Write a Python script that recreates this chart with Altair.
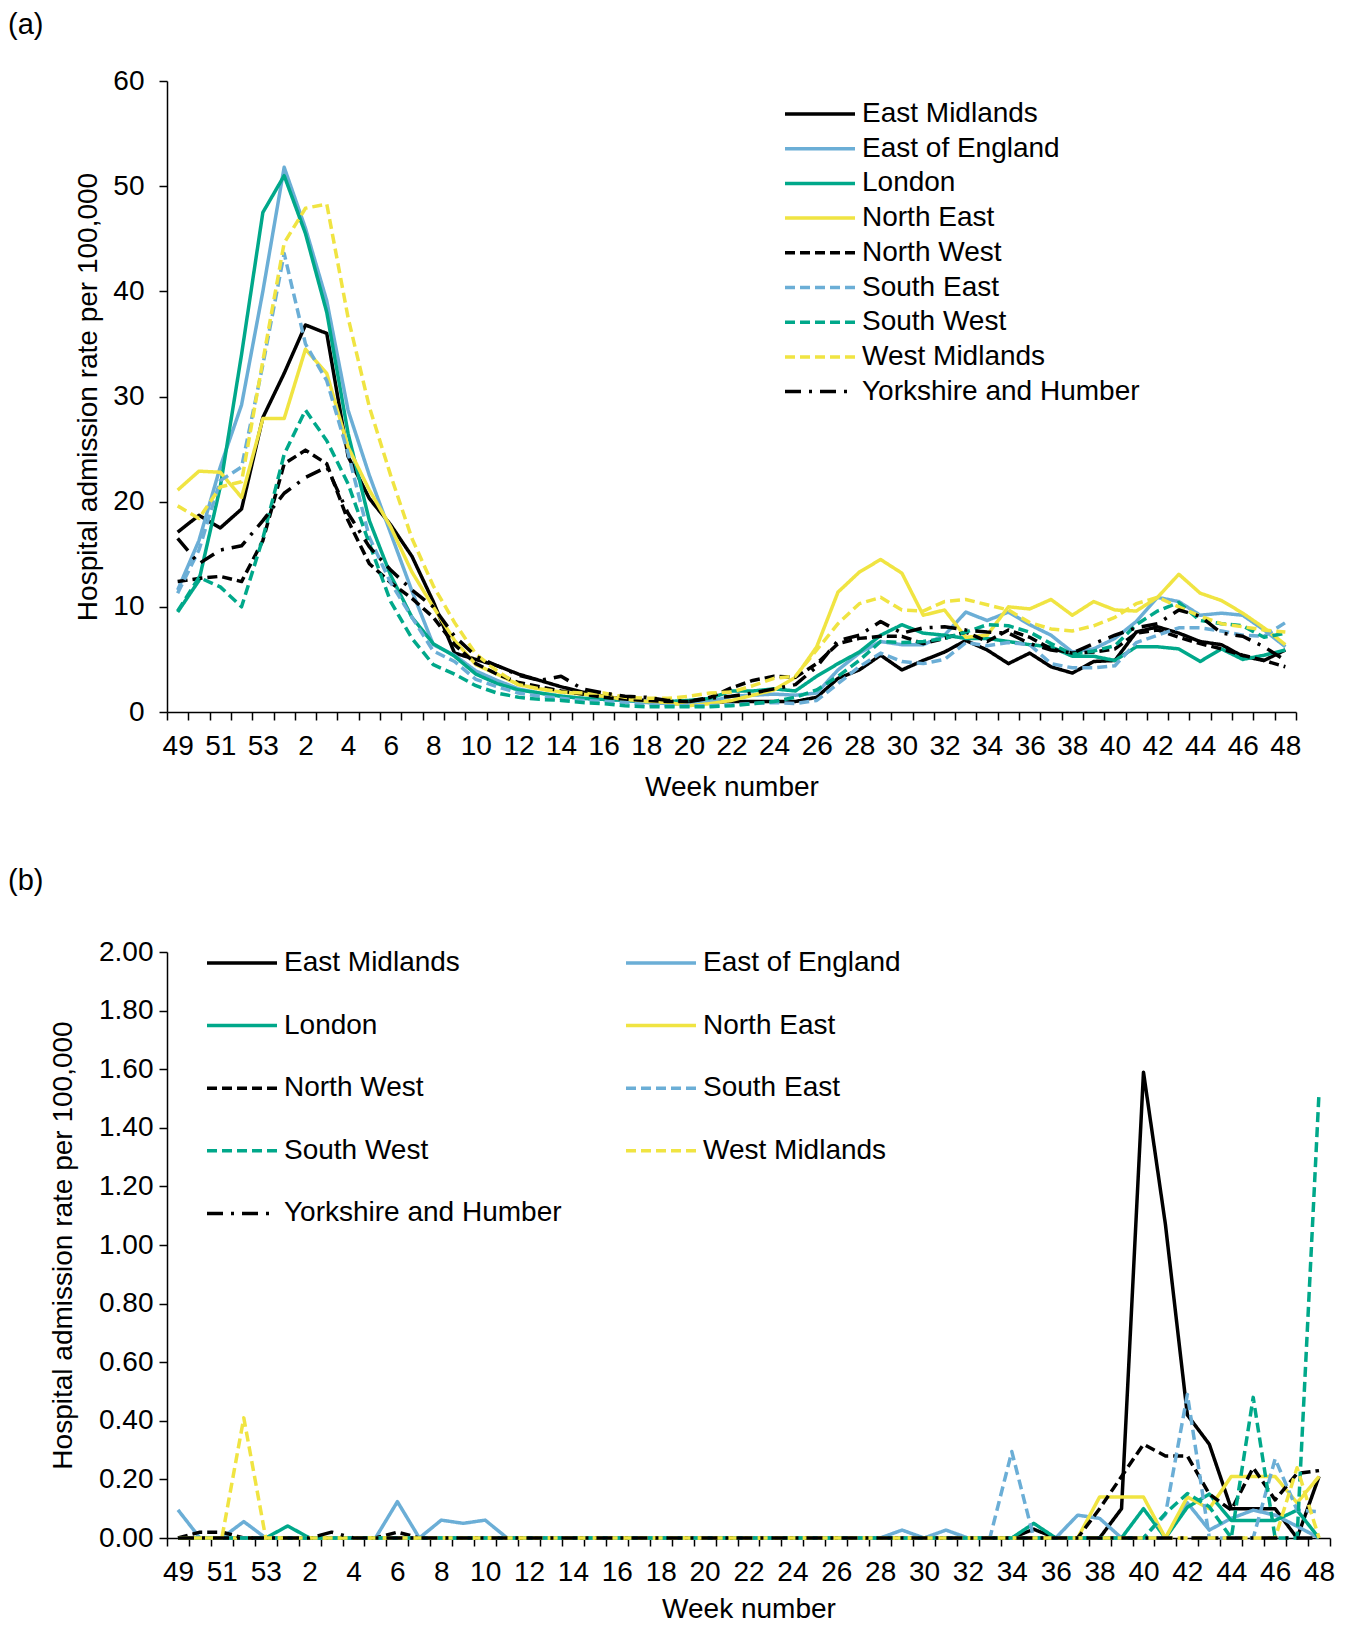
import altair as alt
import pandas as pd

weeks = [49, 50, 51, 52, 53] + list(range(1, 49))
regions = ["East Midlands", "East of England", "London", "North East", "North West",
           "South East", "South West", "West Midlands", "Yorkshire and Humber"]
colors = ["#000000", "#6BAED6", "#00A88A", "#F0E442",
          "#000000", "#6BAED6", "#00A88A", "#F0E442", "#000000"]
dashes = [[1, 0], [1, 0], [1, 0], [1, 0], [10, 5], [10, 5], [10, 5], [10, 5], [16, 8, 3, 8]]

# ---- panel (a): hospital admission rate per 100,000 ----
a_em = [17.1, 18.7, 17.5, 19.3, 28.0, 32.2, 36.8, 36.0, 24.3, 20.3, 17.8, 14.8,
        10.5, 5.6, 5.0, 4.4, 3.6, 3.0, 2.4, 1.9, 1.5, 1.2, 1.0, 0.9, 0.8, 0.9, 1.0, 1.0, 1.0, 1.0, 1.4,
        3.2, 4.0, 5.4, 4.0, 4.9, 5.7, 6.8, 5.9, 4.6, 5.6, 4.3, 3.7, 4.8, 4.9, 7.6, 8.1, 7.5, 6.7, 6.4, 5.3, 4.9, 5.9]
a_eoe = [11.6, 16.3, 23.3, 29.2, 40.0, 51.8, 46.0, 39.1, 28.7, 22.5, 17.0, 11.5,
         6.4, 5.4, 3.9, 3.0, 2.2, 1.8, 1.5, 1.3, 1.2, 1.1, 0.9, 0.8, 0.7, 1.0, 1.5, 1.6, 1.7, 1.6, 1.8,
         4.0, 5.6, 6.7, 6.4, 6.4, 7.3, 9.5, 8.7, 9.5, 8.3, 7.3, 5.7, 6.0, 7.0, 8.6, 10.9, 10.5, 9.2, 9.4, 9.2, 7.8, 6.2]
a_lon = [9.5, 12.5, 21.4, 34.0, 47.5, 51.0, 45.5, 38.0, 26.5, 18.2, 13.0, 9.0,
         6.5, 5.3, 3.6, 2.7, 2.1, 1.8, 1.5, 1.3, 1.2, 1.1, 1.0, 1.0, 1.1, 1.3, 2.0, 2.0, 2.2, 2.0, 3.4,
         4.6, 5.7, 7.3, 8.3, 7.5, 7.3, 7.0, 7.0, 6.7, 6.4, 6.2, 5.3, 5.3, 4.9, 6.2, 6.2, 6.0, 4.8, 6.0, 5.0, 5.4, 5.9]
a_ne = [21.1, 22.9, 22.8, 20.4, 27.9, 27.9, 34.5, 32.2, 25.2, 21.1, 17.6, 13.3,
        10.0, 6.8, 4.5, 3.6, 2.6, 2.2, 1.9, 1.7, 1.5, 1.2, 1.0, 0.9, 0.6, 0.8, 1.1, 1.6, 2.1, 3.3, 6.2,
        11.4, 13.3, 14.5, 13.2, 9.2, 9.7, 7.1, 7.3, 10.0, 9.8, 10.7, 9.2, 10.5, 9.7, 9.6, 10.9, 13.1, 11.3, 10.6, 9.4, 8.0, 6.4]
a_nw = [12.4, 12.7, 12.9, 12.4, 16.3, 23.6, 24.9, 23.6, 18.2, 14.1, 12.3, 10.8,
        9.0, 6.4, 4.6, 3.6, 2.8, 2.4, 2.0, 1.7, 1.4, 1.2, 1.1, 1.0, 1.0, 1.4, 2.3, 3.0, 3.4, 3.3, 4.6,
        6.5, 7.0, 7.2, 7.2, 6.5, 7.0, 7.6, 6.7, 7.8, 7.1, 6.0, 5.6, 5.7, 6.0, 7.5, 7.8, 7.1, 6.5, 6.0, 5.4, 4.9, 4.3]
a_se = [11.3, 15.4, 22.0, 23.3, 33.0, 43.6, 35.0, 31.5, 24.6, 16.6, 12.3, 9.0,
        5.8, 4.8, 3.1, 2.4, 1.8, 1.5, 1.3, 1.1, 1.0, 0.9, 0.7, 0.6, 0.6, 0.6, 0.7, 0.8, 0.9, 0.8, 1.1,
        2.7, 4.3, 5.6, 4.8, 4.6, 5.0, 6.6, 6.3, 6.6, 6.4, 4.6, 4.2, 4.2, 4.4, 6.6, 7.3, 8.0, 8.0, 7.7, 7.3, 7.2, 8.5]
a_sw = [9.6, 12.8, 11.9, 10.0, 16.5, 24.5, 28.7, 25.8, 21.7, 16.0, 10.5, 7.0,
        4.5, 3.6, 2.5, 1.8, 1.4, 1.2, 1.1, 0.9, 0.8, 0.6, 0.5, 0.5, 0.5, 0.5, 0.6, 0.8, 1.0, 1.4, 2.1,
        3.4, 4.9, 6.7, 6.6, 6.7, 7.0, 7.6, 8.3, 8.2, 7.6, 6.5, 5.5, 5.8, 6.3, 8.3, 9.6, 10.4, 8.7, 8.4, 8.2, 7.1, 7.5]
a_wm = [19.6, 18.4, 21.4, 21.9, 33.4, 44.6, 47.9, 48.3, 37.5, 29.0, 22.5, 16.5,
        12.0, 8.5, 5.5, 3.9, 2.6, 2.2, 1.9, 1.8, 1.8, 1.4, 1.3, 1.3, 1.5, 1.8, 1.9, 2.5, 3.2, 3.4, 5.9,
        8.4, 10.3, 10.9, 9.7, 9.6, 10.5, 10.7, 10.2, 9.7, 8.5, 7.9, 7.7, 8.2, 9.0, 10.3, 10.9, 10.0, 9.1, 8.4, 8.1, 7.8, 7.6]
a_yh = [16.5, 14.1, 15.4, 15.8, 18.2, 20.8, 22.3, 23.3, 18.9, 15.7, 13.5, 11.6,
        10.0, 7.2, 5.3, 4.4, 3.5, 3.0, 3.4, 2.2, 1.8, 1.5, 1.4, 1.1, 1.0, 1.3, 1.5, 1.8, 2.2, 2.6, 4.3,
        6.8, 7.3, 8.6, 7.5, 8.0, 8.1, 7.8, 7.6, 7.5, 6.5, 5.9, 5.6, 6.5, 7.3, 8.0, 8.4, 9.7, 9.1, 7.5, 7.2, 6.2, 4.9]

# ---- panel (b) ----
b_em = [0, 0, 0, 0, 0, 0, 0, 0, 0, 0, 0, 0, 0, 0, 0, 0, 0, 0, 0, 0, 0, 0, 0, 0, 0, 0,
        0, 0, 0, 0, 0, 0, 0, 0, 0, 0, 0, 0, 0, 0.03, 0, 0, 0, 0.10, 1.59, 1.07, 0.42, 0.32, 0.10, 0.10, 0.10, 0, 0.21]
b_eoe = [0.096, 0, 0, 0.056, 0, 0, 0, 0, 0, 0, 0.124, 0, 0.061, 0.05, 0.061, 0, 0, 0, 0, 0, 0, 0, 0, 0, 0, 0,
         0, 0, 0, 0, 0, 0, 0, 0.027, 0, 0.027, 0, 0, 0, 0, 0, 0.078, 0.067, 0, 0, 0, 0.12, 0.027, 0.067, 0.095, 0.078, 0.04, 0]
b_lon = [0, 0, 0, 0, 0, 0.041, 0, 0, 0, 0, 0, 0, 0, 0, 0, 0, 0, 0, 0, 0, 0, 0, 0, 0, 0, 0,
         0, 0, 0, 0, 0, 0, 0, 0, 0, 0, 0, 0, 0, 0.05, 0, 0, 0, 0, 0.10, 0, 0.105, 0.15, 0.06, 0.06, 0.06, 0.095, 0]
b_ne = [0, 0, 0, 0, 0, 0, 0, 0, 0, 0, 0, 0, 0, 0, 0, 0, 0, 0, 0, 0, 0, 0, 0, 0, 0, 0,
        0, 0, 0, 0, 0, 0, 0, 0, 0, 0, 0, 0, 0, 0, 0, 0, 0.14, 0.14, 0.14, 0, 0.14, 0.10, 0.21, 0.21, 0.21, 0.12, 0.21]
b_nw = [0, 0.02, 0.02, 0, 0, 0, 0, 0, 0, 0, 0.02, 0, 0, 0, 0, 0, 0, 0, 0, 0, 0, 0, 0, 0, 0, 0,
        0, 0, 0, 0, 0, 0, 0, 0, 0, 0, 0, 0, 0, 0, 0, 0, 0.10, 0.21, 0.32, 0.28, 0.28, 0.15, 0.095, 0.24, 0.13, 0.22, 0.23]
b_se = [0, 0, 0, 0, 0, 0, 0, 0, 0, 0, 0, 0, 0, 0, 0, 0, 0, 0, 0, 0, 0, 0, 0, 0, 0, 0,
        0, 0, 0, 0, 0, 0, 0, 0, 0, 0, 0, 0, 0.295, 0, 0, 0, 0, 0, 0, 0.08, 0.49, 0, 0, 0, 0.27, 0.095, 0.09]
b_sw = [0, 0, 0, 0, 0, 0, 0, 0, 0, 0, 0, 0, 0, 0, 0, 0, 0, 0, 0, 0, 0, 0, 0, 0, 0, 0,
        0, 0, 0, 0, 0, 0, 0, 0, 0, 0, 0, 0, 0, 0, 0, 0, 0, 0, 0, 0.084, 0.152, 0.107, 0, 0.48, 0, 0, 1.52]
b_wm = [0, 0, 0, 0.41, 0, 0, 0, 0, 0, 0, 0, 0, 0, 0, 0, 0, 0, 0, 0, 0, 0, 0, 0, 0, 0, 0,
        0, 0, 0, 0, 0, 0, 0, 0, 0, 0, 0, 0, 0, 0, 0, 0, 0, 0, 0, 0, 0, 0, 0, 0, 0, 0.24, 0]
b_yh = [0, 0, 0, 0, 0, 0, 0, 0.02, 0, 0, 0, 0, 0, 0, 0, 0, 0, 0, 0, 0, 0, 0, 0, 0, 0, 0,
        0, 0, 0, 0, 0, 0, 0, 0, 0, 0, 0, 0, 0, 0, 0, 0, 0, 0, 0, 0, 0, 0, 0, 0, 0, 0, 0]

a_series = [a_em, a_eoe, a_lon, a_ne, a_nw, a_se, a_sw, a_wm, a_yh]
b_series = [b_em, b_eoe, b_lon, b_ne, b_nw, b_se, b_sw, b_wm, b_yh]


def long_frame(series):
    rows = []
    for name, vals in zip(regions, series):
        for i, (w, v) in enumerate(zip(weeks, vals)):
            rows.append({"idx": i, "week": w, "region": name, "value": v})
    return pd.DataFrame(rows)


FONT = "Liberation Sans"
n = len(weeks)
tick_vals = sorted([i - 0.5 for i in range(n + 1)] + [i for i in range(0, n, 2)])
label_expr = ("datum.value % 2 == 0 ? (datum.value < 5 ? datum.value + 49 : datum.value - 4) : ''")


def x_enc(title_pad):
    return alt.X(
        "idx:Q",
        scale=alt.Scale(domain=[-0.5, n - 0.5], nice=False, zero=False),
        axis=alt.Axis(values=tick_vals, labelExpr=label_expr, grid=False,
                      tickOpacity={"condition": {"test": "datum.value % 1 == 0", "value": 0}, "value": 1},
                      labelOverlap=False, labelFlush=False, labelPadding=12, titlePadding=title_pad),
        title="Week number",
    )


def panel(series, ymax, ystep, fmt, title, dx, width, height, legend, title_offset,
          ylabpad, ytitlepad, xtitlepad):
    df = long_frame(series)
    yvals = [round(k * ystep, 4) for k in range(int(round(ymax / ystep)) + 1)]
    return alt.Chart(df, title=alt.TitleParams(title, anchor="start", frame="group", dx=dx,
                                               offset=title_offset, fontSize=29, font=FONT,
                                               fontWeight="normal", color="black")).mark_line(
        strokeWidth=3.5, strokeJoin="round"
    ).encode(
        x=x_enc(xtitlepad),
        y=alt.Y("value:Q", scale=alt.Scale(domain=[0, ymax], nice=False),
                axis=alt.Axis(values=yvals, format=fmt, grid=False, labelPadding=ylabpad,
                              titlePadding=ytitlepad),
                title="Hospital admission rate per 100,000"),
        color=alt.Color("region:N", scale=alt.Scale(domain=regions, range=colors), sort=regions, legend=legend),
        strokeDash=alt.StrokeDash("region:N", scale=alt.Scale(domain=regions, range=dashes), sort=regions,
                                  legend=legend),
        detail="region:N",
    ).properties(width=width, height=height)


def make_legend(x, y, columns, direction, row_pad, col_pad):
    return alt.Legend(title=None, orient="none", legendX=x, legendY=y, columns=columns,
                      direction=direction,
                      symbolType="M-6,0L1,0", symbolSize=400, symbolStrokeWidth=3.5,
                      labelFontSize=28, labelFont=FONT, labelColor="black", labelOffset=3,
                      rowPadding=row_pad, columnPadding=col_pad, padding=0, labelLimit=0)


leg_a = make_legend(664, 19, 1, "vertical", 6.7, 10)
leg_b = make_legend(86, -3, 2, "horizontal", 34.6, 57)

chart_a = panel(a_series, 60, 10, "d", "(a)", -159, 1129, 631, leg_a, 27, 15, 10, 13)
chart_b = panel(b_series, 2.0, 0.2, ".2f", "(b)", -159, 1163, 586, leg_b, 42, 6, 21, 9)

chart = alt.vconcat(chart_a, chart_b, spacing=66).resolve_legend(
    color="independent", strokeDash="independent"
).properties(
    padding={"left": 0, "top": 3, "right": 5, "bottom": 0}
).configure_view(stroke=None).configure_axis(
    domainColor="black", domainWidth=1.5, tickColor="black", tickWidth=1.5, tickSize=8,
    labelFont=FONT, labelFontSize=28, labelColor="black",
    titleFont=FONT, titleFontSize=28, titleFontWeight="normal", titleColor="black",
)

chart.save("out.html", embed_options={"renderer": "svg", "actions": False})
